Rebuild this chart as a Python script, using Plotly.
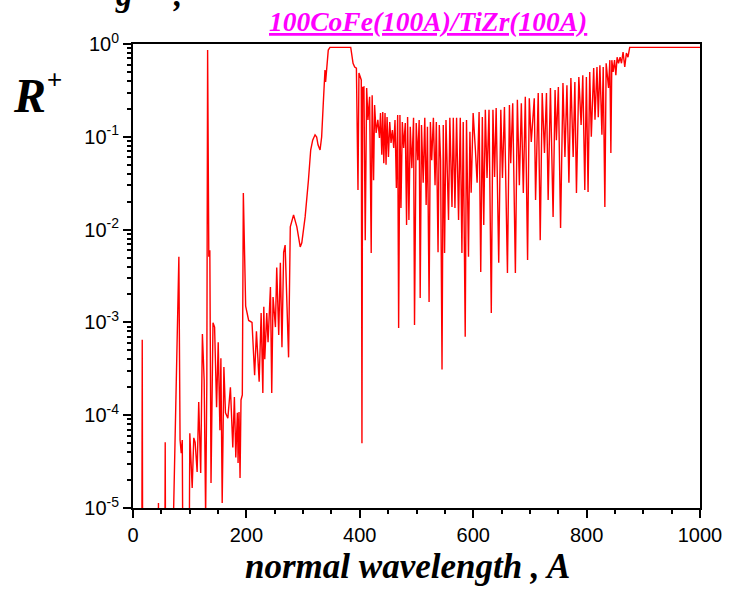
import plotly.graph_objects as go

# Normal wavelength (A) and reflectivity R+
wavelength = [
    0, 15.5, 16.3, 17.1, 44.0, 44.9, 45.8, 56.0, 56.8, 57.6,
    71.7, 76.0, 80.9, 83.0, 85.1, 86.9, 88.3, 98.8, 100.2, 104.4,
    107.2, 109.6, 113.1, 115.9, 119.4, 122.4, 125.5, 128.1, 130.2, 131.6,
    133.7, 135.5, 137.6, 141.1, 143.9, 147.4, 150.3, 153.3, 155.0, 157.3,
    160.3, 163.1, 167.3, 171.8, 176.0, 178.8, 181.3, 184.1, 185.3, 187.0,
    188.8, 190.5, 192.8, 194.6, 198.7, 204.0, 209.9, 214.5, 217.7, 222.5,
    226.0, 229.0, 230.7, 232.4, 235.9, 238.2, 242.4, 244.7, 247.0, 251.2,
    253.5, 257.0, 259.9, 262.7, 265.7, 268.3, 274.4, 277.4, 283.2, 289.0,
    294.9, 297.7, 303.6, 309.4, 313.4, 316.9, 321.1, 323.9, 326.3, 329.9,
    332.7, 335.6, 337.4, 338.6, 339.7, 341.4, 344.4, 347.3, 384.0, 388.1,
    391.0, 394.0, 396.8, 398.5, 402.6, 403.8, 405.0, 407.3, 409.6, 412.1,
    414.4, 417.3, 420.1, 421.8, 424.3, 426.1, 428.8, 431.8, 434.7, 436.5,
    438.8, 440.5, 442.3, 444.5, 446.3, 448.1, 450.5, 452.8, 455.1, 457.5,
    459.8, 462.1, 464.5, 466.8, 468.5, 470.8, 472.6, 475.0, 477.3, 480.2,
    482.5, 484.3, 486.6, 489.0, 491.8, 494.8, 496.5, 499.5, 502.3, 504.7,
    506.5, 508.8, 511.8, 514.6, 517.0, 519.3, 522.2, 524.5, 526.8, 529.8,
    532.7, 535.0, 538.0, 540.2, 542.5, 545.0, 547.2, 549.5, 552.0, 556.5,
    558.8, 562.6, 564.9, 567.8, 570.7, 574.2, 577.2, 580.1, 582.4, 585.9,
    588.2, 591.7, 594.2, 596.4, 599.9, 603.9, 606.9, 610.4, 613.3, 616.1,
    618.6, 621.4, 624.4, 627.9, 631.9, 634.8, 637.7, 640.5, 645.0, 648.7,
    651.6, 655.1, 660.4, 663.9, 666.2, 669.7, 674.4, 677.9, 681.4, 684.9,
    688.4, 691.9, 695.9, 698.9, 702.4, 707.7, 710.0, 714.7, 718.2, 721.7,
    725.7, 729.2, 732.2, 736.2, 740.9, 744.4, 746.7, 750.2, 754.1, 758.3,
    761.8, 765.3, 768.8, 772.3, 776.3, 779.3, 782.1, 786.3, 790.3, 793.3,
    796.8, 799.6, 802.6, 805.5, 808.3, 812.5, 814.8, 818.3, 820.6, 823.5,
    827.0, 829.3, 832.2, 834.5, 838.7, 841.0, 842.8, 844.5, 846.8, 849.3,
    851.6, 853.8, 856.3, 859.1, 861.5, 864.3, 867.3, 870.2, 873.0, 876.0,
    1000,
]

reflectivity = [
    1e-6, 1e-6, 6.5e-4, 1e-6, 1e-6, 1.13e-5, 1e-6, 1e-6, 5.1e-5, 1e-6,
    1e-5, 1.5e-4, 5.1e-3, 5.4e-5, 3.9e-5, 5.4e-5, 1e-6, 1e-6, 6.4e-5, 1.64e-5,
    5.7e-5, 5.1e-5, 2.44e-5, 1.39e-4, 2.38e-5, 7.5e-4, 2.4e-4, 8e-6, 2.2e-4, 0.86,
    5.1e-3, 6.0e-3, 1.86e-5, 9.9e-4, 8.9e-4, 1.22e-4, 6.1e-4, 6.9e-5, 4.1e-4, 1.13e-5,
    3.3e-4, 1.06e-4, 9.3e-5, 2.0e-4, 4.5e-5, 1.57e-4, 3.5e-5, 1.06e-4, 3.05e-5, 1.08e-4,
    2.1e-5, 1.46e-4, 1.65e-4, 0.0248, 1.5e-3, 1.05e-3, 1.0e-3, 2.7e-4, 8e-4, 2.3e-4,
    1.26e-3, 1.73e-4, 1.47e-3, 4.0e-4, 1.26e-3, 6.1e-4, 2.4e-3, 1.73e-4, 1.88e-3, 8.9e-4,
    3.9e-3, 7.3e-4, 4.4e-3, 5.4e-4, 5.7e-3, 6.8e-3, 4.2e-4, 1.07e-2, 1.44e-2, 1.07e-2,
    6.5e-3, 7.2e-3, 1.37e-2, 3.4e-2, 7.2e-2, 9.2e-2, 0.105, 0.0995, 0.082, 0.072,
    0.0995, 0.23, 0.487, 0.525, 0.39, 0.525, 0.86, 0.92, 0.92, 0.62,
    0.565, 0.55, 0.0267, 0.487, 0.41, 5e-5, 0.34, 0.344, 0.0077, 0.336,
    0.152, 0.27, 0.0056, 0.28, 0.034, 0.22, 0.11, 0.152, 0.097, 0.18,
    0.064, 0.185, 0.052, 0.18, 0.05, 0.163, 0.0606, 0.144, 0.086, 0.118,
    0.076, 0.152, 0.028, 0.172, 8.7e-4, 0.172, 0.0171, 0.144, 0.076, 0.141,
    0.0112, 0.163, 0.0127, 0.128, 0.046, 0.16, 9.4e-4, 0.141, 0.056, 0.152,
    1.83e-3, 0.134, 0.032, 0.16, 0.0184, 0.128, 1.66e-3, 0.144, 0.056, 0.16,
    0.03, 0.144, 5.7e-3, 0.134, 0.056, 3.1e-4, 0.134, 5.6e-3, 0.152, 0.0127,
    0.16, 0.0175, 0.16, 0.0171, 0.16, 0.0127, 0.16, 5.6e-3, 0.144, 7e-4,
    0.152, 5.1e-3, 0.113, 0.025, 0.18, 0.072, 0.032, 0.185, 3.5e-3, 0.163,
    0.0112, 0.195, 0.036, 0.195, 1.26e-3, 0.195, 0.037, 0.204, 4.4e-3, 0.195,
    0.036, 0.21, 3.4e-3, 0.22, 0.052, 0.23, 3.4e-3, 0.25, 0.03, 0.23,
    0.0248, 0.27, 4.7e-3, 0.26, 0.088, 0.26, 0.0208, 0.296, 7.7e-3, 0.296,
    0.067, 0.296, 0.0208, 0.336, 0.0137, 0.32, 0.092, 0.344, 0.0104, 0.38,
    0.0606, 0.36, 0.032, 0.43, 0.0606, 0.39, 0.0248, 0.44, 0.134, 0.46,
    0.0267, 0.44, 0.0254, 0.50, 0.1, 0.55, 0.153, 0.565, 0.163, 0.59,
    0.105, 0.565, 0.0175, 0.62, 0.336, 0.67, 0.067, 0.67, 0.50, 0.67,
    0.46, 0.72, 0.62, 0.72, 0.62, 0.82, 0.565, 0.80, 0.72, 0.92,
    0.92,
]

x_tick_vals = [0, 200, 400, 600, 800, 1000]
x_tick_text = ["0", "200", "400", "600", "800", "1000"]
y_tick_vals = [1e-5, 1e-4, 1e-3, 1e-2, 1e-1, 1]
y_tick_text = ["10<sup>-5</sup>", "10<sup>-4</sup>", "10<sup>-3</sup>",
               "10<sup>-2</sup>", "10<sup>-1</sup>", "10<sup>0</sup>"]

title_text = "100CoFe(100A)/TiZr(100A)"
x_title = "normal wavelength , A"

SERIF = "Liberation Serif, Times New Roman, serif"
SANS = "Liberation Sans, Arial, sans-serif"

fig = go.Figure()
fig.add_trace(go.Scatter(
    x=wavelength, y=reflectivity, mode="lines",
    line=dict(color="#ff0000", width=1.4), showlegend=False,
))

fig.update_layout(
    width=734, height=593,
    margin=dict(l=133, r=29, t=44, b=85),
    plot_bgcolor="white", paper_bgcolor="white",
    showlegend=False,
)

fig.update_xaxes(
    range=[0, 1000], tickmode="array", tickvals=x_tick_vals, ticktext=x_tick_text,
    ticks="outside", ticklen=8, tickwidth=1.5, tickcolor="black",
    showline=True, linecolor="black", linewidth=2, mirror=True,
    showgrid=False, zeroline=False,
    tickfont=dict(family=SANS, size=20, color="black"),
    minor=dict(ticks="outside", ticklen=4, tickwidth=1.5, tickcolor="black",
               tick0=0, dtick=50, showgrid=False),
)

fig.update_yaxes(
    type="log", range=[-5, 0], tickmode="array", tickvals=y_tick_vals, ticktext=y_tick_text,
    ticks="outside", ticklen=8, tickwidth=1.5, tickcolor="black",
    showline=True, linecolor="black", linewidth=2, mirror=True,
    showgrid=False, zeroline=False,
    tickfont=dict(family=SANS, size=20, color="black"),
    minor=dict(ticks="outside", ticklen=4, tickwidth=1.5, tickcolor="black",
               dtick="D1", showgrid=False),
)

annotations = [
    dict(text="<b><i><u>" + title_text + "</u></i></b>", x=0.521, y=1.048,
         xref="paper", yref="paper", xanchor="center", yanchor="middle",
         showarrow=False, font=dict(family=SERIF, size=27.5, color="#ff00ff")),
    dict(text="<b><i>" + x_title + "</i></b>", x=0.4834, y=-0.125,
         xref="paper", yref="paper", xanchor="center", yanchor="middle",
         showarrow=False, font=dict(family=SERIF, size=35, color="black")),
    dict(text="<b><i>R</i></b>", x=-0.182, y=0.888,
         xref="paper", yref="paper", xanchor="center", yanchor="middle",
         showarrow=False, font=dict(family=SERIF, size=48, color="black")),
    dict(text="+", x=-0.139, y=0.9235,
         xref="paper", yref="paper", xanchor="center", yanchor="middle",
         showarrow=False, font=dict(family=SANS, size=26, color="black")),
    dict(text="<b><i>g</i></b>", x=-0.0157, y=1.105,
         xref="paper", yref="paper", xanchor="center", yanchor="middle",
         showarrow=False, font=dict(family=SERIF, size=33, color="black")),
    dict(text="<b><i>,</i></b>", x=0.078, y=1.105,
         xref="paper", yref="paper", xanchor="center", yanchor="middle",
         showarrow=False, font=dict(family=SERIF, size=33, color="black")),
]
fig.update_layout(annotations=annotations)

fig.write_html("out.html")
